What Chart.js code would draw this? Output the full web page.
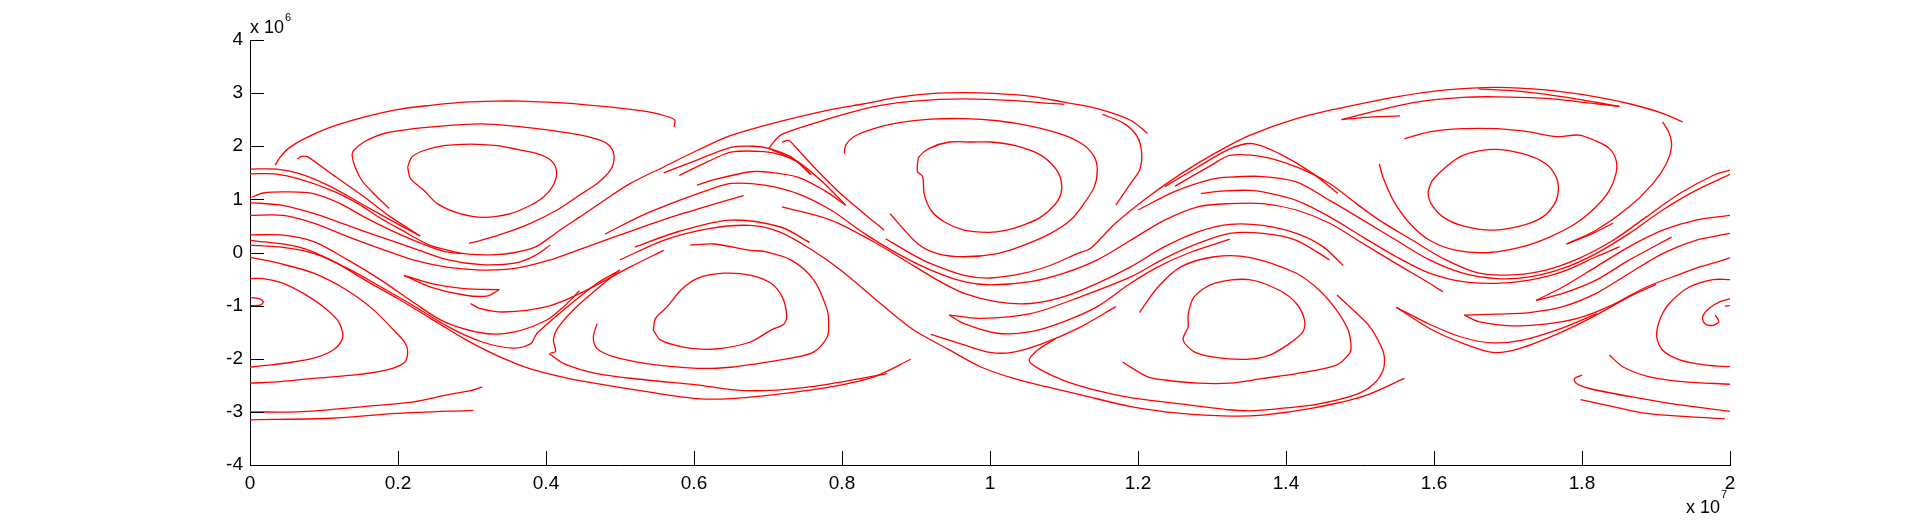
<!DOCTYPE html>
<html>
<head>
<meta charset="utf-8">
<title>Streamlines</title>
<script src="https://cdn.jsdelivr.net/npm/chart.js@4.4.1/dist/chart.umd.min.js"></script>
<style>
  html, body { margin: 0; padding: 0; background: #fff; }
  canvas { display: block; }
</style>
</head>
<body>
<canvas id="streamCanvas" width="1914" height="522"></canvas>
<script>
// x in units of 1e6 (axis shows x 10^7), y in units of 1e6 (axis shows x 10^6)
const xTicks = [0, 2, 4, 6, 8, 10, 12, 14, 16, 18, 20];
const yTicks = [-4, -3, -2, -1, 0, 1, 2, 3, 4];

// upper vortex around x = 3
const vortexA_inner = [[2.13,1.61],[2.19,1.80],[2.35,1.92],[2.62,2.01],[2.98,2.04],[3.34,2.01],[3.61,1.94],[3.88,1.86],[4.06,1.74],[4.14,1.55],[4.11,1.30],[3.97,1.05],[3.79,0.89],[3.52,0.73],[3.16,0.66],[2.84,0.73],[2.53,0.92],[2.35,1.17],[2.17,1.39],[2.13,1.61]];
const vortexA_mid = [[1.88,0.83],[1.67,1.11],[1.51,1.36],[1.42,1.61],[1.38,1.83],[1.40,1.92],[1.54,2.08],[1.81,2.24],[2.21,2.33],[2.66,2.39],[3.12,2.42],[3.57,2.38],[4.02,2.31],[4.47,2.21],[4.74,2.11],[4.87,1.99],[4.92,1.80],[4.87,1.55],[4.69,1.30],[4.42,1.05],[4.15,0.80],[3.79,0.55],[3.43,0.36],[3.12,0.23],[2.96,0.17]];
const vortexA_outer = [[0.34,1.64],[0.41,1.80],[0.52,1.96],[0.73,2.14],[1.09,2.36],[1.54,2.55],[1.99,2.69],[2.44,2.77],[2.89,2.83],[3.34,2.85],[3.66,2.85],[4.02,2.83],[4.47,2.79],[4.92,2.73],[5.37,2.65],[5.64,2.56],[5.74,2.49],[5.73,2.36]];

// upper vortex around x = 9.8
const vortexB_inner = [[9.02,1.67],[9.04,1.80],[9.18,1.96],[9.45,2.08],[9.76,2.08],[10.02,2.08],[10.34,2.01],[10.65,1.86],[10.87,1.61],[10.96,1.36],[10.96,1.11],[10.87,0.89],[10.69,0.67],[10.46,0.52],[10.19,0.41],[9.97,0.38],[9.65,0.42],[9.38,0.58],[9.20,0.80],[9.11,1.11],[9.09,1.43],[9.02,1.52],[9.02,1.67]];
const vortexB_mid = [[8.03,1.86],[8.05,2.02],[8.16,2.18],[8.43,2.33],[8.75,2.44],[9.20,2.51],[9.65,2.52],[10.10,2.48],[10.55,2.38],[11.00,2.21],[11.27,2.02],[11.41,1.80],[11.45,1.55],[11.41,1.24],[11.27,0.92],[11.09,0.61],[10.82,0.36],[10.46,0.14],[10.10,-0.02],[9.65,-0.08],[9.29,-0.02],[9.02,0.17],[8.65,0.73]];
const vortexB_outerTop = [[7.01,1.96],[7.17,2.21],[7.62,2.43],[8.07,2.62],[8.52,2.77],[8.97,2.85],[9.65,2.89],[10.32,2.86],[10.77,2.81],[11.00,2.79]];
const vortexB_outerRight = [[11.52,2.60],[11.81,2.43],[11.99,2.18],[12.05,1.86],[12.02,1.55],[11.90,1.30],[11.70,0.89]];
const vortexB_hook1 = [[5.59,1.50],[6.04,1.74],[6.50,1.98],[6.81,2.00],[7.01,1.96],[7.31,1.80],[7.58,1.47]];
const vortexB_hook2 = [[7.19,2.08],[7.28,2.11],[7.35,2.02],[7.62,1.61],[7.98,1.11],[8.30,0.73],[8.57,0.42]];
const vortexB_hook3 = [[6.04,1.27],[6.30,1.38],[6.76,1.52],[6.95,1.52],[7.40,1.42],[7.76,1.17],[8.05,0.89]];
const vortexB_hook4 = [[7.01,1.96],[7.40,1.71],[7.76,1.30],[8.05,0.89]];
const vortexB_hook5 = [[5.80,1.45],[6.20,1.72],[6.50,1.89],[6.95,1.90],[7.20,1.83],[7.40,1.70],[7.58,1.47]];

// upper vortex around x = 16.8
const vortexC_inner = [[15.94,1.24],[15.98,1.36],[16.16,1.61],[16.39,1.83],[16.79,1.94],[17.20,1.86],[17.51,1.67],[17.65,1.42],[17.68,1.17],[17.63,0.92],[17.47,0.67],[17.20,0.51],[16.79,0.42],[16.39,0.50],[16.12,0.67],[15.96,0.92],[15.92,1.11],[15.94,1.24]];
const vortexC_mid = [[15.60,2.14],[15.94,2.27],[16.39,2.33],[16.84,2.33],[17.29,2.27],[17.65,2.18],[17.96,2.21],[18.19,2.10],[18.37,1.96],[18.46,1.74],[18.46,1.49],[18.37,1.17],[18.19,0.86],[17.92,0.55],[17.56,0.29],[17.20,0.11],[16.75,0.00],[16.30,0.04],[15.94,0.23],[15.67,0.55],[15.45,0.98],[15.31,1.42],[15.26,1.67]];
const vortexC_outerRight = [[19.09,2.46],[19.18,2.24],[19.21,1.99],[19.14,1.67],[18.96,1.30],[18.64,0.86],[18.19,0.42],[17.79,0.16]];
const vortexC_arc = [[14.75,2.50],[15.26,2.68],[15.76,2.83],[16.39,2.92],[16.84,2.93],[17.51,2.90],[18.19,2.80],[18.51,2.75]];
const vortexC_arc2 = [[16.60,3.08],[17.20,3.03],[17.80,2.92],[18.50,2.75]];
const vortexC_hook = [[14.75,2.50],[15.04,2.54],[15.54,2.57]];
const vortexC_hook1 = [[12.36,1.24],[12.81,1.61],[13.24,1.95],[13.55,2.05],[13.91,1.86],[14.36,1.49],[14.70,1.11]];
const vortexC_short = [[18.42,0.55],[18.10,0.33],[17.79,0.16]];

// the two wavy separatrices over/under the upper vortices
const sepUpper1 = [[0,1.48],[0.33,1.48],[0.65,1.39],[1.10,1.17],[1.46,0.92],[1.77,0.64],[2.05,0.42],[2.41,0.15],[2.68,0.04],[2.95,-0.03],[3.31,-0.04],[3.58,0.00],[3.85,0.10],[4.05,0.28],[4.25,0.48],[4.46,0.67],[4.69,0.89],[5.14,1.30],[5.59,1.61],[6.04,1.92],[6.49,2.20],[6.95,2.39],[7.40,2.55],[7.85,2.69],[8.30,2.80],[8.75,2.92],[9.20,2.99],[9.65,3.01],[10.10,2.99],[10.56,2.94],[11.00,2.83],[11.45,2.71],[11.90,2.49],[12.13,2.24]];
const sepUpper2 = [[8.59,0.26],[8.93,-0.02],[9.20,-0.21],[9.65,-0.43],[10.01,-0.48],[10.46,-0.39],[10.82,-0.24],[11.18,-0.02],[11.36,0.08],[11.68,0.53],[12.13,1.04],[12.58,1.48],[13.03,1.86],[13.50,2.20],[14.14,2.52],[14.81,2.74],[15.49,2.93],[16.16,3.06],[16.84,3.11],[17.51,3.06],[18.19,2.93],[18.64,2.80],[19.09,2.62],[19.36,2.46]];
// and under the lower vortices
const sepLower1 = [[0,0.23],[0.64,0.11],[1.09,-0.14],[1.63,-0.58],[1.99,-0.86],[2.44,-1.24],[2.89,-1.62],[3.34,-1.94],[3.79,-2.19],[4.24,-2.35],[4.69,-2.47],[5.36,-2.62],[6.04,-2.75],[6.50,-2.75],[7.17,-2.66],[7.85,-2.53],[8.43,-2.34],[8.93,-2.01]];
const sepLower2 = [[5.00,-0.14],[5.59,0.23],[6.20,0.45],[6.76,0.51],[7.17,0.38],[7.58,0.06],[7.98,-0.33],[8.52,-0.96],[8.97,-1.46],[9.42,-1.81],[9.87,-2.15],[10.32,-2.37],[10.77,-2.53],[11.23,-2.68],[11.90,-2.90],[12.58,-3.03],[13.24,-3.08],[13.69,-3.06],[14.36,-2.93],[15.04,-2.71],[15.60,-2.37]];

// band lines on the left
const bandA = [[0,1.57],[0.36,1.57],[0.68,1.48],[1.09,1.24],[1.54,0.89],[1.90,0.61],[2.30,0.31]];
const bandHookA = [[0.64,1.76],[0.70,1.81],[0.78,1.80],[1.09,1.49],[1.54,1.05],[1.90,0.67],[2.30,0.31]];
const bandC = [[0.02,1.04],[0.18,1.12],[0.50,1.14],[0.86,1.11],[1.22,0.92],[1.54,0.67],[1.90,0.42],[2.26,0.20],[2.62,0.02],[2.85,-0.02]];
const bandD = [[0,0.94],[0.42,0.89],[0.87,0.73],[1.32,0.51],[1.77,0.29],[2.23,0.07],[2.68,-0.14],[3.13,-0.23],[3.58,-0.20],[3.85,-0.06],[4.06,0.14]];
const bandE = [[0,0.70],[0.45,0.70],[0.87,0.55],[1.32,0.30],[1.77,0.07],[2.23,-0.15],[2.68,-0.28],[3.13,-0.33],[3.58,-0.30],[4.03,-0.15],[4.46,0.06],[5.00,0.33],[5.59,0.62],[6.10,0.84],[6.67,1.07]];
const band033 = [[0,0.33],[0.42,0.33],[0.87,0.20],[1.32,-0.14],[1.77,-0.52],[2.23,-0.96],[2.62,-1.30],[3.16,-1.52],[3.56,-1.50],[4.01,-1.27],[4.24,-1.02],[4.45,-0.72]];
const band014 = [[0,0.14],[0.42,0.10],[0.87,-0.02],[1.32,-0.30],[1.77,-0.65],[2.23,-1.02],[2.68,-1.40],[3.13,-1.68],[3.55,-1.80],[3.79,-1.72],[3.88,-1.52],[4.24,-1.08],[4.69,-0.58],[5.00,-0.33]];
const bandShort1 = [[2.08,-0.43],[2.44,-0.58],[2.89,-0.68],[3.37,-0.70]];
const bandShort2 = [[2.08,-0.43],[2.44,-0.65],[2.89,-0.80],[3.20,-0.82],[3.37,-0.70]];
const bandHookB = [[2.98,-0.96],[3.10,-1.05],[3.43,-1.12],[4.01,-1.02],[4.46,-0.77],[5.14,-0.27],[5.59,0.04]];

// lower vortex wrapping round x = 0 / 20
const lowW_hook = [[0.01,-0.85],[0.12,-0.87],[0.18,-0.93],[0.14,-0.99],[0.01,-1.00]];
const lowW_innerLeft = [[0,-0.49],[0.18,-0.49],[0.45,-0.58],[0.72,-0.77],[0.99,-1.02],[1.18,-1.27],[1.25,-1.49],[1.24,-1.65],[1.13,-1.83],[0.86,-1.99],[0.50,-2.08],[0.18,-2.13],[0,-2.16]];
const lowW_midLeft = [[0,-0.09],[0.41,-0.21],[0.86,-0.39],[1.31,-0.71],[1.67,-1.08],[1.94,-1.46],[2.10,-1.71],[2.13,-1.90],[2.08,-2.08],[1.85,-2.21],[1.45,-2.30],[0.86,-2.37],[0.41,-2.43],[0,-2.46]];
const lowW_bottom1 = [[0,-3.00],[0.64,-3.00],[1.54,-2.90],[2.21,-2.81],[2.66,-2.68],[2.98,-2.60],[3.14,-2.53]];
const lowW_bottom2 = [[0,-3.15],[1.09,-3.12],[1.99,-3.03],[3.02,-2.97]];
const lowW_innerRight = [[20,-0.51],[19.77,-0.51],[19.45,-0.65],[19.18,-0.96],[19.05,-1.27],[19.01,-1.59],[19.09,-1.84],[19.32,-2.02],[19.68,-2.12],[20,-2.15]];
const lowW_spiral = [[20.0,-0.87],[19.86,-0.93],[19.72,-1.05],[19.63,-1.21],[19.66,-1.34],[19.77,-1.37],[19.85,-1.30],[19.80,-1.18]];
const lowW_spiralTail = [[19.93,-1.01],[20.0,-1.00]];
const lowW_out1 = [[18.37,-1.93],[18.55,-2.15],[18.91,-2.34],[19.36,-2.43],[20.0,-2.48]];
const lowW_out2 = [[18.00,-2.31],[17.90,-2.37],[17.92,-2.46],[18.10,-2.56],[18.64,-2.71],[19.32,-2.87],[20.0,-2.99]];
const lowW_out3 = [[17.98,-2.77],[18.42,-2.90],[18.87,-3.03],[19.54,-3.10],[19.93,-3.13]];

// lower vortex around x = 6.4
const lowA_inner = [[5.45,-1.46],[5.48,-1.24],[5.64,-1.02],[5.82,-0.71],[6.04,-0.49],[6.40,-0.39],[6.77,-0.43],[7.04,-0.58],[7.19,-0.83],[7.25,-1.15],[7.22,-1.34],[7.04,-1.46],[6.77,-1.68],[6.40,-1.80],[6.10,-1.82],[5.82,-1.77],[5.55,-1.65],[5.45,-1.46]];
const lowA_mid = [[5.95,0.14],[6.27,0.16],[6.76,0.04],[6.95,0.02],[7.31,-0.14],[7.62,-0.52],[7.80,-1.08],[7.82,-1.34],[7.80,-1.59],[7.62,-1.87],[7.31,-1.99],[6.86,-2.09],[6.50,-2.16],[6.04,-2.18],[5.36,-2.09],[4.91,-1.96],[4.69,-1.81],[4.64,-1.59],[4.69,-1.34]];
const lowA_hook = [[4.06,-1.89],[4.13,-1.86],[4.10,-1.65],[4.17,-1.40],[4.46,-0.96],[5.00,-0.33]];
const lowA_bottom = [[4.04,-1.90],[4.24,-2.09],[4.69,-2.28],[5.36,-2.40],[6.04,-2.49],[6.50,-2.58],[6.95,-2.60],[7.62,-2.52],[8.30,-2.36],[8.61,-2.28]];
const lowA_top = [[5.20,0.10],[5.80,0.40],[6.50,0.61],[7.17,0.48],[7.56,0.19]];

// band lines in the middle
const band1 = [[4.80,0.35],[5.30,0.70],[5.80,0.98],[6.20,1.18],[6.50,1.30],[6.95,1.27],[7.40,1.11],[7.85,0.80],[8.30,0.36],[8.75,-0.02],[9.20,-0.33],[9.65,-0.55],[10.00,-0.61],[10.55,-0.55],[11.00,-0.39],[11.45,-0.14],[11.90,0.23],[12.36,0.61],[12.81,0.86],[13.24,0.92],[13.69,0.92],[14.14,0.80],[14.59,0.55],[15.04,0.17],[15.49,-0.21],[15.94,-0.58],[16.12,-0.74]];
const band2 = [[7.19,0.86],[7.85,0.61],[8.39,0.23],[8.84,-0.14],[9.29,-0.52],[9.65,-0.77],[10.10,-0.93],[10.55,-0.96],[11.00,-0.83],[11.45,-0.58],[11.90,-0.27],[12.36,0.11],[12.81,0.39],[13.24,0.53],[13.69,0.51],[14.14,0.36],[14.50,0.11],[14.77,-0.24]];
const band3 = [[9.45,-1.18],[9.87,-1.24],[10.55,-1.15],[11.23,-0.83],[11.90,-0.46],[12.36,-0.11],[12.81,0.17],[13.24,0.36],[13.69,0.36],[14.14,0.23],[14.59,-0.14]];
const band3b = [[9.45,-1.18],[9.65,-1.34],[10.10,-1.52],[10.55,-1.49],[11.00,-1.30],[11.45,-1.02],[11.90,-0.58],[12.27,-0.27],[12.70,0.00],[13.24,0.25]];
const band4 = [[9.20,-1.54],[9.65,-1.74],[10.00,-1.88],[10.30,-1.88],[10.70,-1.72],[11.20,-1.42],[11.70,-1.02]];

// lower vortex around x = 13.2
const lowB_inner = [[12.68,-1.40],[12.68,-1.15],[12.76,-0.83],[13.03,-0.58],[13.50,-0.51],[13.91,-0.71],[14.14,-0.96],[14.25,-1.27],[14.23,-1.49],[14.05,-1.71],[13.78,-1.93],[13.46,-2.01],[13.03,-1.97],[12.76,-1.87],[12.61,-1.65],[12.68,-1.40]];
const lowB_mid = [[12.02,-1.13],[12.27,-0.65],[12.58,-0.27],[13.03,-0.08],[13.50,-0.09],[14.14,-0.39],[14.45,-0.71],[14.68,-1.08],[14.84,-1.46],[14.88,-1.78],[14.86,-1.90],[14.68,-2.12],[14.14,-2.28],[13.69,-2.37],[13.24,-2.46],[12.81,-2.46],[12.36,-2.40],[12.13,-2.34],[11.79,-2.06]];
const lowB_outer = [[14.69,-0.80],[14.86,-1.02],[15.13,-1.39],[15.29,-1.78],[15.33,-1.97],[15.31,-2.22],[15.18,-2.48],[14.95,-2.67],[14.41,-2.86],[13.96,-2.93],[13.51,-2.98],[13.24,-2.96],[12.58,-2.85],[11.90,-2.73],[11.45,-2.60],[11.00,-2.41],[10.69,-2.21],[10.53,-2.04],[10.64,-1.84],[10.89,-1.62]];

// band lines on the right
const bandU2 = [[12.00,0.80],[12.50,1.15],[13.00,1.38],[13.24,1.42],[13.69,1.43],[14.14,1.33],[14.59,0.98],[15.04,0.61],[15.49,0.23],[15.94,-0.14],[16.39,-0.39],[16.84,-0.49],[17.29,-0.46],[17.74,-0.30],[18.19,-0.02],[18.64,0.36],[19.09,0.80],[19.54,1.17],[20.0,1.47]];
const bandU3 = [[12.50,1.25],[13.00,1.65],[13.24,1.83],[13.69,1.80],[14.14,1.61],[14.59,1.30],[14.95,0.92],[15.26,0.61],[15.71,0.23],[16.16,-0.14],[16.61,-0.39],[17.06,-0.42],[17.51,-0.33],[17.96,-0.11],[18.42,0.23],[18.87,0.67],[19.32,1.11],[19.77,1.45],[20.0,1.55]];
const bandU4 = [[12.85,1.11],[13.17,1.16],[13.52,1.17],[13.69,1.14],[14.14,0.98],[14.59,0.67],[15.04,0.29],[15.49,-0.08],[15.94,-0.39],[16.39,-0.55],[16.84,-0.58],[17.29,-0.52],[17.74,-0.36],[18.19,-0.08],[18.51,0.11]];
const bandRa = [[16.41,-1.18],[16.84,-1.16],[17.29,-1.13],[17.74,-1.02],[18.19,-0.77],[18.64,-0.39],[19.09,-0.02],[19.54,0.23],[20.0,0.36]];
const bandRb = [[16.41,-1.18],[16.60,-1.30],[17.06,-1.38],[17.50,-1.35],[17.96,-1.23],[18.42,-0.98],[18.87,-0.65],[19.36,-0.39],[19.59,-0.27],[19.82,-0.18],[20.0,-0.10]];
const bandRc = [[17.38,-0.90],[17.74,-0.77],[18.19,-0.52],[18.64,-0.14],[19.21,0.29]];
const bandRd = [[17.38,-0.90],[17.74,-0.65],[18.19,-0.27],[18.64,0.11],[19.09,0.42],[19.54,0.61],[20.0,0.70]];
const bandRe1 = [[15.49,-1.03],[15.94,-1.43],[16.39,-1.71],[16.79,-1.88],[17.15,-1.81],[17.74,-1.49],[18.19,-1.18],[18.64,-0.83],[19.00,-0.60]];
const bandRe2 = [[15.49,-1.03],[15.94,-1.35],[16.39,-1.60],[16.79,-1.70],[17.20,-1.65],[17.74,-1.42],[18.20,-1.15]];

const streamlines = [
  vortexA_inner, vortexA_mid, vortexA_outer,
  vortexB_inner, vortexB_mid, vortexB_outerTop, vortexB_outerRight,
  vortexB_hook1, vortexB_hook2, vortexB_hook3, vortexB_hook4, vortexB_hook5,
  vortexC_inner, vortexC_mid, vortexC_outerRight, vortexC_arc, vortexC_arc2,
  vortexC_hook, vortexC_hook1, vortexC_short,
  sepUpper1, sepUpper2, sepLower1, sepLower2,
  bandA, bandHookA, bandC, bandD, bandE, band033, band014,
  bandShort1, bandShort2, bandHookB,
  lowW_hook, lowW_innerLeft, lowW_midLeft, lowW_bottom1, lowW_bottom2,
  lowW_innerRight, lowW_spiral, lowW_spiralTail, lowW_out1, lowW_out2, lowW_out3,
  lowA_inner, lowA_mid, lowA_hook, lowA_bottom, lowA_top,
  band1, band2, band3, band3b, band4,
  lowB_inner, lowB_mid, lowB_outer,
  bandU2, bandU3, bandU4, bandRa, bandRb, bandRc, bandRd, bandRe1, bandRe2
];

const fontFamily = '"Liberation Sans", Arial, Helvetica, sans-serif';
Chart.defaults.font.family = fontFamily;
Chart.defaults.font.size = 19;
Chart.defaults.color = '#000';

// MATLAB style: ticks pointing inward + the "x 10^n" multipliers
const axisDecor = {
  id: 'axisDecor',
  afterDraw(chart) {
    const { ctx, chartArea: a, scales } = chart;
    const x = scales.x, y = scales.y;
    ctx.save();
    ctx.strokeStyle = '#000';
    ctx.lineWidth = 1;
    ctx.beginPath();
    x.ticks.forEach(t => {
      const px = Math.round(x.getPixelForValue(t.value)) + 0.5;
      ctx.moveTo(px, a.bottom);
      ctx.lineTo(px, a.bottom - 14);
    });
    y.ticks.forEach(t => {
      const py = Math.round(y.getPixelForValue(t.value)) + 0.5;
      ctx.moveTo(a.left, py);
      ctx.lineTo(a.left + 14, py);
    });
    ctx.stroke();

    ctx.fillStyle = '#000';
    ctx.textBaseline = 'alphabetic';
    ctx.textAlign = 'left';
    // y multiplier, top left
    ctx.font = '18px ' + fontFamily;
    ctx.fillText('x 10', a.left, a.top - 7);
    const wy = ctx.measureText('x 10').width;
    ctx.font = '11px ' + fontFamily;
    ctx.fillText('6', a.left + wy + 1, a.top - 19);
    // x multiplier, bottom right
    ctx.font = '18px ' + fontFamily;
    const wx = ctx.measureText('x 10').width;
    ctx.fillText('x 10', a.right - 10 - wx, a.bottom + 48);
    ctx.font = '11px ' + fontFamily;
    ctx.fillText('7', a.right - 9, a.bottom + 33);
    ctx.restore();
  }
};

const datasets = streamlines.map((line, i) => ({
  label: 'streamline ' + (i + 1),
  data: line.map(p => ({ x: p[0], y: p[1] })),
  showLine: true,
  borderColor: '#ff0000',
  borderWidth: 1.3,
  pointRadius: 0,
  tension: 0.3,
  fill: false
}));

const config = {
  type: 'scatter',
  data: { datasets: datasets },
  options: {
    responsive: false,
    animation: false,
    layout: { padding: { left: 200, right: 184, top: 40, bottom: 17 } },
    plugins: { legend: { display: false }, tooltip: { enabled: false } },
    scales: {
      x: {
        type: 'linear',
        min: 0,
        max: 20,
        afterBuildTicks: s => { s.ticks = xTicks.map(v => ({ value: v })); },
        afterFit: s => { s.height = 40; },
        grid: { display: false, drawTicks: false },
        border: { display: true, color: '#000', width: 1 },
        ticks: {
          autoSkip: false,
          maxRotation: 0,
          padding: 7,
          callback: v => String(Math.round(v) / 10)
        }
      },
      y: {
        type: 'linear',
        min: -4,
        max: 4,
        afterBuildTicks: s => { s.ticks = yTicks.map(v => ({ value: v })); },
        afterFit: s => { s.width = 50; },
        grid: { display: false, drawTicks: false },
        border: { display: true, color: '#000', width: 1 },
        ticks: { autoSkip: false, padding: 7 }
      }
    }
  },
  plugins: [axisDecor]
};

new Chart(document.getElementById('streamCanvas'), config);
</script>
</body>
</html>
